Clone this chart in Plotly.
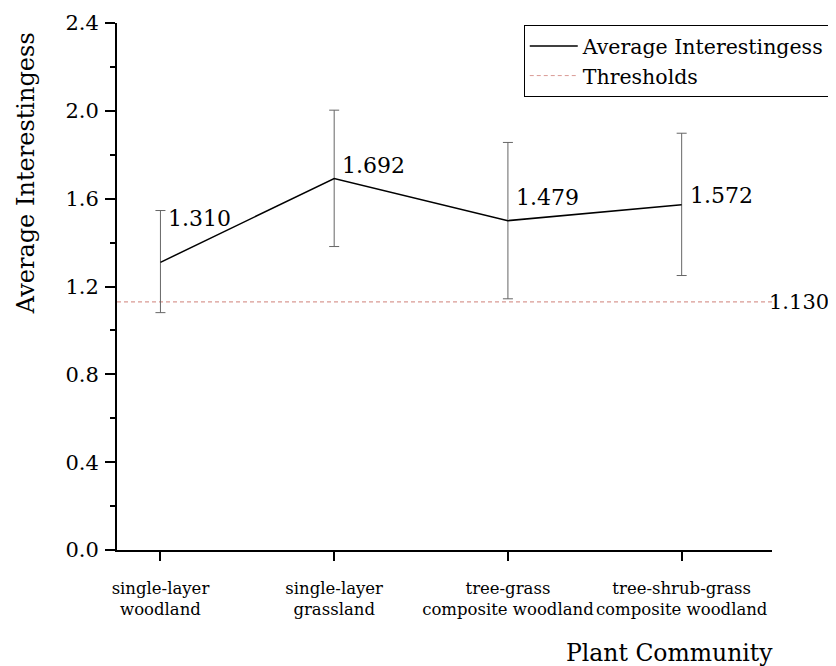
import plotly.graph_objects as go

categories = ["single-layer<br>woodland", "single-layer<br>grassland",
              "tree-grass<br>composite woodland", "tree-shrub-grass<br>composite woodland"]
mean_values = [1.310, 1.692, 1.500, 1.572]
label_texts = ["1.310", "1.692", "1.479", "1.572"]
err_plus = [0.236, 0.311, 0.356, 0.326]
err_minus = [0.229, 0.310, 0.356, 0.322]
threshold = 1.130
y_ticks = [0.0, 0.4, 0.8, 1.2, 1.6, 2.0, 2.4]

FONT = "DejaVu Serif"
xpos = list(range(len(categories)))

fig = go.Figure()
fig.add_trace(go.Scatter(
    x=xpos, y=mean_values, mode="lines", name="Average Interestingess",
    line=dict(color="black", width=1.5),
    error_y=dict(type="data", symmetric=False, array=err_plus, arrayminus=err_minus,
                 color="#666666", thickness=1, width=5),
))
fig.add_trace(go.Scatter(
    x=[None], y=[None], mode="lines", name="Thresholds",
    line=dict(color="#d99a94", width=1, dash="4px,3px"),
))
fig.add_shape(type="line", xref="paper", x0=0, x1=1, yref="y", y0=threshold, y1=threshold,
              line=dict(color="#d99a94", width=1.2, dash="4px,3px"), layer="below")

yshifts = [44, 13, 23, 9]
for i, (v, t) in enumerate(zip(mean_values, label_texts)):
    fig.add_annotation(x=xpos[i], y=v, text=t, showarrow=False, xanchor="left",
                       yanchor="middle", xshift=6, yshift=yshifts[i],
                       font=dict(family=FONT, size=22, color="black"))
fig.add_annotation(xref="paper", x=1, y=threshold, text=f"{threshold:.3f}", showarrow=False,
                   xanchor="left", yanchor="middle", xshift=-5,
                   font=dict(family=FONT, size=21, color="black"))

fig.add_annotation(xref="paper", yref="paper", x=-0.139, y=0.715, text="Average Interestingess",
                   textangle=-90, showarrow=False, xanchor="center", yanchor="middle",
                   font=dict(family=FONT, size=24, color="black"))
fig.add_annotation(xref="paper", yref="paper", x=1.005, y=-0.195, text="Plant Community",
                   showarrow=False, xanchor="right", yanchor="middle",
                   font=dict(family=FONT, size=23.5, color="black"))

fig.update_layout(
    width=828, height=658,
    margin=dict(l=109, r=64, t=15, b=116, autoexpand=False),
    paper_bgcolor="white", plot_bgcolor="white",
    showlegend=True,
    legend=dict(x=0.621, y=0.996, xanchor="left", yanchor="top",
                bordercolor="black", borderwidth=1, bgcolor="white",
                font=dict(family=FONT, size=20.5, color="black"),
                tracegroupgap=0, itemwidth=48),
    xaxis=dict(range=[-0.25, 3.52], tickmode="array", tickvals=xpos, ticktext=categories,
               showgrid=False, zeroline=False, showline=True, linecolor="black", linewidth=2,
               ticks="outside", ticklen=9, tickwidth=2, tickcolor="black",
               tickangle=0, automargin=False, ticklabelstandoff=13,
               tickfont=dict(family=FONT, size=16.5, color="black")),
    yaxis=dict(range=[0, 2.4], tickmode="array", tickvals=y_ticks,
               ticktext=[f"{v:.1f}" for v in y_ticks], automargin=False,
               showgrid=False, zeroline=False, showline=True, linecolor="black", linewidth=2,
               ticks="outside", ticklen=10, tickwidth=2, tickcolor="black",
               ticklabelstandoff=2,
               minor=dict(dtick=0.2, ticks="outside", ticklen=5, tickwidth=2, tickcolor="black", showgrid=False),
               tickfont=dict(family=FONT, size=21, color="black")),
)

fig.write_html("out.html")
